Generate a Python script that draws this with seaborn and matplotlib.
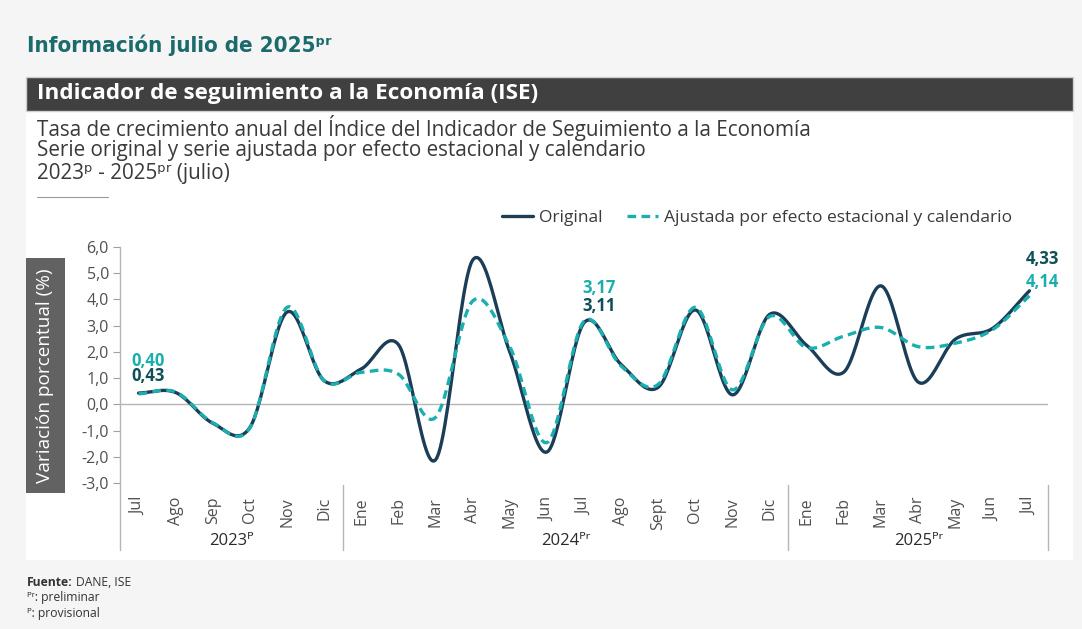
import numpy as np
import pandas as pd
import matplotlib
matplotlib.use("Agg")
import matplotlib.pyplot as plt
import matplotlib.transforms as mtrans
from matplotlib.patches import Rectangle
from matplotlib.lines import Line2D
import seaborn as sns

# ---------------- data ----------------
months = ["Jul", "Ago", "Sep", "Oct", "Nov", "Dic",
          "Ene", "Feb", "Mar", "Abr", "May", "Jun", "Jul", "Ago", "Sept", "Oct", "Nov", "Dic",
          "Ene", "Feb", "Mar", "Abr", "May", "Jun", "Jul"]
years = ["2023ᴾ", "2024ᴾʳ", "2025ᴾʳ"]
year_sizes = [6, 12, 7]
original = [0.43, 0.45, -0.72, -0.88, 3.52, 0.90,
            1.35, 2.28, -2.12, 5.50, 2.00, -1.82, 3.11, 1.52, 0.65, 3.60, 0.36, 3.43,
            2.25, 1.23, 4.52, 0.85, 2.48, 2.89, 4.33]
ajustada = [0.40, 0.47, -0.70, -0.90, 3.70, 0.90,
            1.22, 1.15, -0.50, 3.94, 2.20, -1.46, 3.17, 1.46, 0.76, 3.70, 0.55, 3.35,
            2.16, 2.60, 2.93, 2.20, 2.33, 2.84, 4.14]
series_names = ["Original", "Ajustada por efecto estacional y calendario"]
ytick_values = [6, 5, 4, 3, 2, 1, 0, -1, -2, -3]
ytick_labels = ["6,0", "5,0", "4,0", "3,0", "2,0", "1,0", "0,0", "-1,0", "-2,0", "-3,0"]
labels_orig = {0: "0,43", 12: "3,11", 24: "4,33"}
labels_adj = {0: "0,40", 12: "3,17", 24: "4,14"}

# ---------------- style ----------------
C_ORIG = "#1c3d58"
C_ORIG_TXT = "#0f4f58"
C_ADJ = "#1aaeae"
C_TEXT = "#3a3a3a"
BG = "#f5f5f5"

sns.set_theme(style="white")
plt.rcParams["font.family"] = ["Open Sans", "DejaVu Sans"]

W, H = 1082, 629
fig = plt.figure(figsize=(W / 100, H / 100), dpi=100, facecolor=BG)


def fx(px):
    return px / W


def fy(py):
    return 1 - py / H


# white panel and header bar
fig.patches.append(Rectangle((fx(26), fy(560)), fx(1073 - 26), (560 - 77) / H,
                             transform=fig.transFigure, facecolor="white",
                             edgecolor="none", zorder=-2))
fig.patches.append(Rectangle((fx(26), fy(111)), fx(1073 - 26), 34 / H,
                             transform=fig.transFigure, facecolor="#404040",
                             edgecolor="#cfcfcf", linewidth=1, zorder=-1))

# titles
fig.text(fx(27), fy(45), "Información julio de 2025ᵖʳ",
         family=["DejaVu Sans"], fontstretch="condensed", fontweight="bold",
         fontsize=16, color="#1b6a6c", va="center", ha="left")
fig.text(fx(37), fy(94), "Indicador de seguimiento a la Economía (ISE)",
         fontweight="bold", fontsize=16.2, color="white", va="center", ha="left")
sub = ["Tasa de crecimiento anual del Índice del Indicador de Seguimiento a la Economía",
       "Serie original y serie ajustada por efecto estacional y calendario",
       "2023ᵖ - 2025ᵖʳ (julio)"]
for i, s in enumerate(sub):
    fig.text(fx(37), fy(128 + 22.5 * i), s, fontsize=14.9, color=C_TEXT,
             va="center", ha="left", family=["Open Sans", "DejaVu Sans"])
fig.add_artist(Line2D([fx(37), fx(108)], [fy(197), fy(197)],
                      transform=fig.transFigure, color="#9a9a9a", lw=0.8))

# ---------------- axes ----------------
ax = fig.add_axes([fx(120), fy(483), fx(1048 - 120), (483 - 247) / H])
ax.set_facecolor("none")


# smooth (Catmull-Rom) rendering of the monthly series
def smooth(y, n=24):
    y = np.asarray(y, dtype=float)
    x = np.arange(len(y), dtype=float)
    P = np.column_stack([x, y])
    P = np.vstack([2 * P[0] - P[1], P, 2 * P[-1] - P[-2]])
    out = []
    t = np.linspace(0, 1, n, endpoint=False)[:, None]
    for i in range(1, len(P) - 2):
        p0, p1, p2, p3 = P[i - 1], P[i], P[i + 1], P[i + 2]
        c1 = p1 + (p2 - p0) / 6
        c2 = p2 - (p3 - p1) / 6
        seg = ((1 - t) ** 3) * p1 + 3 * ((1 - t) ** 2) * t * c1 + 3 * (1 - t) * t ** 2 * c2 + t ** 3 * p2
        out.append(seg)
    out.append(P[-2][None, :])
    return np.vstack(out)


frames = []
for name, vals in zip(series_names, [original, ajustada]):
    s = smooth(vals)
    frames.append(pd.DataFrame({"x": s[:, 0], "y": s[:, 1], "serie": name}))
df = pd.concat(frames, ignore_index=True)

ax.axhline(0, color="#b5b5b5", lw=1.0, zorder=1)

sns.lineplot(data=df, x="x", y="y", hue="serie", style="serie",
             palette={series_names[0]: C_ORIG, series_names[1]: C_ADJ},
             dashes={series_names[0]: "", series_names[1]: (2.6, 1.6)},
             estimator=None, sort=False, lw=2.4, ax=ax, zorder=3)

ax.set_xlim(-0.5, len(months) - 0.5)
ax.set_ylim(-3, 6)
ax.set_xlabel("")
ax.set_ylabel("")

ax.set_yticks(ytick_values)
ax.set_yticklabels(ytick_labels)
ax.set_xticks(range(len(months)))
ax.set_xticklabels(months, rotation=90)
ax.tick_params(axis="y", left=True, length=5, width=0.8, color="#a0a0a0",
               labelsize=11.5, labelcolor="#505050", pad=3)
ax.tick_params(axis="x", bottom=False, labelsize=11.5, labelcolor="#505050", pad=4)

for sp in ["top", "right", "bottom"]:
    ax.spines[sp].set_visible(False)
ax.spines["left"].set_color("#b5b5b5")
ax.spines["left"].set_linewidth(1.0)

# axis extension and group separators
bt = mtrans.blended_transform_factory(ax.transData, ax.transAxes)
ext = -(550 - 483) / 236
ax.add_line(Line2D([0, 0], [0, ext], transform=ax.transAxes, color="#b5b5b5",
                   lw=1.0, clip_on=False))
start = 0
for size, yl in zip(year_sizes, years):
    end = start + size
    ax.add_line(Line2D([end - 0.5, end - 0.5], [-2 / 236, ext], transform=bt,
                       color="#b5b5b5", lw=1.0, clip_on=False))
    ax.text((start + end - 1) / 2, -(541 - 483) / 236, yl, transform=bt,
            ha="center", va="center", fontsize=12, color="#2a2a2a",
            family=["Open Sans", "DejaVu Sans"], clip_on=False)
    start = end

# value labels
offs_orig = {0: (7, 12), 12: (11, 12), 24: (9, 23)}
offs_adj = {0: (7, 23.5), 12: (11, 24), 24: (9, 10)}
for i, txt in labels_orig.items():
    ax.annotate(txt, (i, original[i]), xytext=offs_orig[i], textcoords="offset points",
                ha="center", va="center", fontsize=12, fontweight="bold",
                color=C_ORIG_TXT, annotation_clip=False)
for i, txt in labels_adj.items():
    ax.annotate(txt, (i, ajustada[i]), xytext=offs_adj[i], textcoords="offset points",
                ha="center", va="center", fontsize=12, fontweight="bold",
                color=C_ADJ, annotation_clip=False)

# legend
handles = [Line2D([], [], color=C_ORIG, lw=2.4),
           Line2D([], [], color=C_ADJ, lw=2.4, dashes=(2.6, 1.6))]
ax.legend(handles, series_names, loc="center",
          bbox_to_anchor=(fx(757), fy(218)), bbox_transform=fig.transFigure,
          ncol=2, frameon=False, fontsize=12.5, handlelength=1.8,
          handletextpad=0.35, columnspacing=1.4, labelcolor="#3a3a3a")

# y label box
fig.patches.append(Rectangle((fx(26), fy(493)), fx(65 - 26), (493 - 258) / H,
                             transform=fig.transFigure, facecolor="#626262",
                             edgecolor="none", zorder=2))
fig.text(fx(45.5), fy(375.5), "Variación porcentual (%)", rotation=90,
         ha="center", va="center", color="white", fontsize=13.7, zorder=3)

# footnotes
r = fig.canvas.get_renderer()
t1 = fig.text(fx(27), fy(582), "Fuente:", fontsize=8.7, fontweight="bold",
              color="#333333", va="center", ha="left")
bb = t1.get_window_extent(renderer=r)
fig.text(bb.x1 / W + 0.003, fy(582), "DANE, ISE", fontsize=8.7,
         color="#333333", va="center", ha="left")
fig.text(fx(27), fy(598), "ᴾʳ: preliminar", fontsize=8.7, color="#333333",
         va="center", ha="left", family=["Open Sans", "DejaVu Sans"])
fig.text(fx(27), fy(614), "ᴾ: provisional", fontsize=8.7, color="#333333",
         va="center", ha="left", family=["Open Sans", "DejaVu Sans"])

fig.savefig("out.png", dpi=100, facecolor=BG)
